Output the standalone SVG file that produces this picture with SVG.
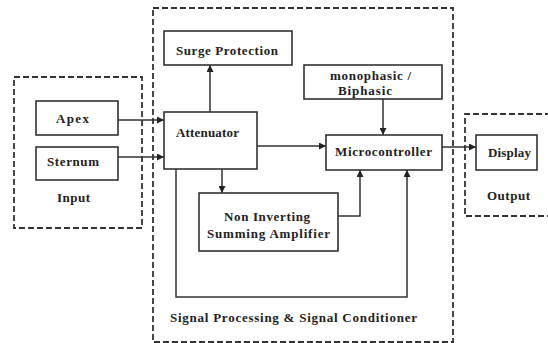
<svg xmlns="http://www.w3.org/2000/svg" width="548" height="343" viewBox="0 0 548 343">
<style>
.box{fill:#fff;stroke:#333;stroke-width:1.6}
.dash{fill:none;stroke:#333;stroke-width:1.8;stroke-dasharray:6,3}
.ln{fill:none;stroke:#333;stroke-width:1.5}
text{font-family:"Liberation Serif","DejaVu Serif",serif;font-weight:bold;font-size:13px;fill:#222}
</style>
<defs>
<marker id="ah" viewBox="0 0 10 10" refX="10" refY="5" markerWidth="7" markerHeight="7" markerUnits="userSpaceOnUse" orient="auto">
<path d="M0,0 L10,5 L0,10 Z" fill="#222"/>
</marker>
</defs>
<rect width="548" height="343" fill="#fff"/>
<g id="group-input">
<rect class="dash" x="14" y="77" width="128" height="151"/>
<text x="57" y="202" textLength="33" lengthAdjust="spacing">Input</text>
</g>
<g id="group-signal">
<rect class="dash" x="153" y="8" width="300" height="334"/>
<text x="170" y="322" textLength="247" lengthAdjust="spacing">Signal Processing &amp; Signal Conditioner</text>
</g>
<g id="group-output">
<path class="dash" d="M560,114 L465,114 L465,216 L560,216"/>
<text x="487" y="200" textLength="43" lengthAdjust="spacing">Output</text>
</g>
<g id="connectors">
<line class="ln" x1="118" y1="120" x2="164" y2="120" marker-end="url(#ah)"/>
<line class="ln" x1="118" y1="157" x2="164" y2="157" marker-end="url(#ah)"/>
<line class="ln" x1="210" y1="112" x2="210" y2="65" marker-end="url(#ah)"/>
<line class="ln" x1="383" y1="99" x2="383" y2="135" marker-end="url(#ah)"/>
<line class="ln" x1="257" y1="146" x2="326" y2="146" marker-end="url(#ah)"/>
<line class="ln" x1="442" y1="147" x2="476" y2="147" marker-end="url(#ah)"/>
<line class="ln" x1="222" y1="169" x2="222" y2="193" marker-end="url(#ah)"/>
<polyline class="ln" points="338,216 360,216 360,170" marker-end="url(#ah)"/>
<polyline class="ln" points="176,169 176,297 407,297 407,170" marker-end="url(#ah)"/>
</g>
<g id="apex">
<rect class="box" x="36" y="101" width="82" height="34"/>
<text x="56" y="123" textLength="33" lengthAdjust="spacing">Apex</text>
</g>
<g id="sternum">
<rect class="box" x="36" y="147" width="82" height="33"/>
<text x="47" y="166" textLength="52" lengthAdjust="spacing">Sternum</text>
</g>
<g id="surge">
<rect class="box" x="164" y="31" width="128" height="34"/>
<text x="176" y="55" textLength="102" lengthAdjust="spacing">Surge Protection</text>
</g>
<g id="attenuator">
<rect class="box" x="164" y="112" width="93" height="57"/>
<text x="176" y="137" textLength="63" lengthAdjust="spacing">Attenuator</text>
</g>
<g id="phase">
<rect class="box" x="304" y="65" width="138" height="34"/>
<text x="330" y="80" textLength="81" lengthAdjust="spacing">monophasic /</text>
<text x="338" y="95" textLength="54" lengthAdjust="spacing">Biphasic</text>
</g>
<g id="micro">
<rect class="box" x="326" y="135" width="116" height="35"/>
<text x="335" y="156" textLength="97" lengthAdjust="spacing">Microcontroller</text>
</g>
<g id="display">
<rect class="box" x="476" y="135" width="61" height="35"/>
<text x="488" y="157" textLength="43" lengthAdjust="spacing">Display</text>
</g>
<g id="amplifier">
<rect class="box" x="199" y="193" width="139" height="58"/>
<text x="224" y="221" textLength="86" lengthAdjust="spacing">Non Inverting</text>
<text x="207" y="238" textLength="123" lengthAdjust="spacing">Summing Amplifier</text>
</g>
</svg>
